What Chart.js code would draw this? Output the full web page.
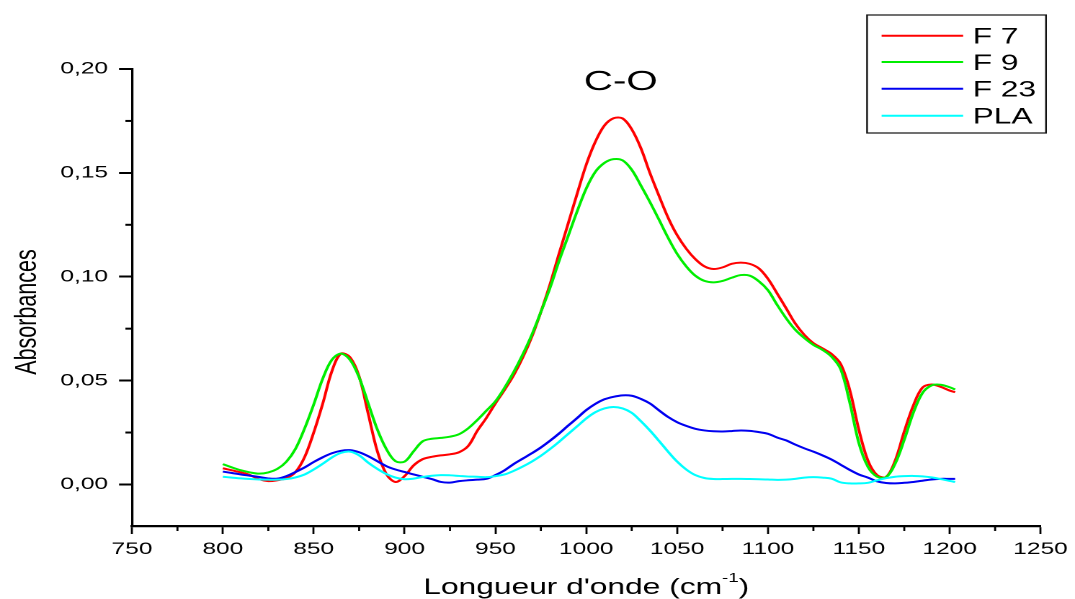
<!DOCTYPE html>
<html>
<head>
<meta charset="utf-8">
<title>Absorbances C-O</title>
<script src="https://cdn.jsdelivr.net/npm/chart.js@4.4.1/dist/chart.umd.min.js"></script>
<style>
  html, body { margin: 0; padding: 0; background: #fff; overflow: hidden; }
  /* the plot is drawn narrow and widened horizontally */
  #wrap { width: 746px; height: 599px; transform: scaleX(1.441); transform-origin: 0 0; }
</style>
</head>
<body>
<div id="wrap"><canvas id="spectre"></canvas></div>
<script>
// nombre d'onde (cm-1)
const wavenumbers = [
  800, 805, 810, 815, 820, 825, 830, 835, 840, 845,
  850, 855, 860, 865, 870, 875, 880, 885, 890, 895,
  900, 905, 910, 915, 920, 925, 930, 935, 940, 945,
  950, 955, 960, 965, 970, 975, 980, 985, 990, 995,
  1000, 1005, 1010, 1015, 1020, 1025, 1030, 1035, 1040, 1045,
  1050, 1055, 1060, 1065, 1070, 1075, 1080, 1085, 1090, 1095,
  1100, 1105, 1110, 1115, 1120, 1125, 1130, 1135, 1140, 1145,
  1150, 1155, 1160, 1165, 1170, 1175, 1180, 1185, 1190, 1195,
  1200, 1203
];

const f7 = [
  0.0078, 0.0068, 0.0058, 0.0045, 0.0025, 0.0016, 0.0020, 0.0030, 0.0060, 0.0132,
  0.0250, 0.0390, 0.0545, 0.0630, 0.0612, 0.0520, 0.0340, 0.0160, 0.0050, 0.0012,
  0.0040, 0.0092, 0.0122, 0.0133, 0.0140, 0.0145, 0.0155, 0.0185, 0.0258, 0.0320,
  0.0390, 0.0455, 0.0525, 0.0610, 0.0710, 0.0830, 0.0962, 0.1110, 0.1255, 0.1400,
  0.1540, 0.1650, 0.1728, 0.1763, 0.1762, 0.1710, 0.1620, 0.1500, 0.1390, 0.1285,
  0.1200, 0.1135, 0.1085, 0.1050, 0.1037, 0.1045, 0.1062, 0.1068, 0.1062, 0.1040,
  0.0990, 0.0920, 0.0848, 0.0775, 0.0720, 0.0680, 0.0655, 0.0628, 0.0580, 0.0455,
  0.0264, 0.0115, 0.0045, 0.0036, 0.0115, 0.0255, 0.0380, 0.0466, 0.0481, 0.0470,
  0.0452, 0.0444
];

const f9 = [
  0.0098, 0.0082, 0.0068, 0.0058, 0.0052, 0.0058, 0.0075, 0.0110, 0.0172, 0.0270,
  0.0385, 0.0510, 0.0600, 0.0630, 0.0600, 0.0515, 0.0390, 0.0265, 0.0170, 0.0112,
  0.0110, 0.0160, 0.0208, 0.0220, 0.0224, 0.0230, 0.0242, 0.0270, 0.0310, 0.0355,
  0.0400, 0.0465, 0.0540, 0.0625, 0.0720, 0.0830, 0.0945, 0.1075, 0.1195, 0.1315,
  0.1425, 0.1505, 0.1548, 0.1566, 0.1560, 0.1515, 0.1440, 0.1360, 0.1275, 0.1188,
  0.1110, 0.1050, 0.1005, 0.0980, 0.0973, 0.0980, 0.0995, 0.1008, 0.1005, 0.0978,
  0.0935, 0.0865, 0.0800, 0.0745, 0.0705, 0.0672, 0.0648, 0.0615, 0.0555, 0.0395,
  0.0200, 0.0085, 0.0038, 0.0035, 0.0100, 0.0215, 0.0345, 0.0440, 0.0477, 0.0480,
  0.0468, 0.0457
];

const f23 = [
  0.0062, 0.0055, 0.0048, 0.0042, 0.0036, 0.0029, 0.0028, 0.0040, 0.0060, 0.0082,
  0.0108, 0.0131, 0.0150, 0.0162, 0.0165, 0.0155, 0.0136, 0.0112, 0.0088, 0.0072,
  0.0060, 0.0048, 0.0037, 0.0026, 0.0012, 0.0009, 0.0016, 0.0020, 0.0023, 0.0027,
  0.0045, 0.0068, 0.0098, 0.0124, 0.0150, 0.0178, 0.0210, 0.0245, 0.0283, 0.0320,
  0.0358, 0.0388, 0.0410, 0.0422, 0.0429, 0.0427, 0.0412, 0.0390, 0.0357, 0.0325,
  0.0300, 0.0282, 0.0268, 0.0260, 0.0256, 0.0255, 0.0257, 0.0260, 0.0258, 0.0252,
  0.0244, 0.0226, 0.0212, 0.0192, 0.0174, 0.0158, 0.0140, 0.0120, 0.0095, 0.0070,
  0.0048, 0.0033, 0.0015, 0.0007, 0.0005, 0.0008, 0.0012, 0.0018, 0.0024, 0.0027,
  0.0027, 0.0027
];

const pla = [
  0.0037, 0.0033, 0.0029, 0.0026, 0.0024, 0.0023, 0.0023, 0.0026, 0.0034, 0.0048,
  0.0072, 0.0100, 0.0130, 0.0152, 0.0158, 0.0140, 0.0105, 0.0075, 0.0050, 0.0033,
  0.0025, 0.0028, 0.0036, 0.0042, 0.0045, 0.0044, 0.0041, 0.0038, 0.0037, 0.0035,
  0.0040, 0.0048, 0.0065, 0.0086, 0.0110, 0.0138, 0.0170, 0.0205, 0.0243, 0.0280,
  0.0318, 0.0348, 0.0366, 0.0373, 0.0366, 0.0345, 0.0305, 0.0260, 0.0210, 0.0158,
  0.0110, 0.0072, 0.0045, 0.0031, 0.0026, 0.0026, 0.0027, 0.0027, 0.0026, 0.0025,
  0.0024, 0.0022, 0.0023, 0.0027, 0.0033, 0.0035, 0.0033, 0.0028, 0.0010, 0.0005,
  0.0005, 0.0008, 0.0020, 0.0030, 0.0037, 0.0040, 0.0041, 0.0039, 0.0034, 0.0026,
  0.0017, 0.0012
];

// graduations
const xTicks = [750, 800, 850, 900, 950, 1000, 1050, 1100, 1150, 1200, 1250];
const xMinorTicks = [775, 825, 875, 925, 975, 1025, 1075, 1125, 1175, 1225];
const yTicks = [0, 0.05, 0.10, 0.15, 0.20];
const yMinorTicks = [0.025, 0.075, 0.125, 0.175];

const FONT = '"Liberation Sans", Arial, sans-serif';
Chart.defaults.color = '#000';
Chart.defaults.font.family = FONT;

function serie(label, values, color, order) {
  return {
    label: label,
    data: wavenumbers.map((w, i) => ({ x: w, y: values[i] })),
    borderColor: color,
    backgroundColor: color,
    borderWidth: 2,
    pointRadius: 0,
    tension: 0.35,
    order: order
  };
}

// titres, petites graduations et légende
const decor = {
  id: 'decor',
  afterDraw(chart) {
    const { ctx, chartArea, scales } = chart;
    const x = scales.x, y = scales.y;
    ctx.save();
    ctx.strokeStyle = '#000';
    ctx.fillStyle = '#000';

    ctx.lineWidth = 2;
    yMinorTicks.forEach(v => {
      const py = y.getPixelForValue(v);
      ctx.beginPath();
      ctx.moveTo(chartArea.left, py);
      ctx.lineTo(chartArea.left - 4.6, py);
      ctx.stroke();
    });
    ctx.lineWidth = 1.4;
    xMinorTicks.forEach(v => {
      const px = x.getPixelForValue(v);
      ctx.beginPath();
      ctx.moveTo(px, chartArea.bottom);
      ctx.lineTo(px, chartArea.bottom + 5);
      ctx.stroke();
    });

    // C-O
    ctx.font = '28px ' + FONT;
    ctx.textAlign = 'center';
    ctx.textBaseline = 'alphabetic';
    ctx.fillText('C-O', x.getPixelForValue(1019), 90);

    // axe Y
    ctx.save();
    ctx.translate(25, 312);
    ctx.rotate(-Math.PI / 2);
    ctx.font = '21.5px ' + FONT;
    ctx.fillText('Absorbances', 0, 0);
    ctx.restore();

    // axe X, avec exposant
    const big = '22px ' + FONT, small = '13px ' + FONT;
    const t1 = "Longueur d'onde (cm", t2 = '-1', t3 = ')';
    ctx.font = big;
    const w1 = ctx.measureText(t1).width, w3 = ctx.measureText(t3).width;
    ctx.font = small;
    const w2 = ctx.measureText(t2).width;
    let tx = (chartArea.left + chartArea.right) / 2 - (w1 + w2 + w3) / 2;
    ctx.textAlign = 'left';
    ctx.font = big;
    ctx.fillText(t1, tx, 594);
    ctx.font = small;
    ctx.fillText(t2, tx + w1, 582);
    ctx.font = big;
    ctx.fillText(t3, tx + w1 + w2, 594);

    // légende
    ctx.lineWidth = 1.2;
    ctx.strokeStyle = '#111';
    ctx.strokeRect(601.7, 15, 124.2, 118);
    ctx.font = '22px ' + FONT;
    const rows = [35.7, 62, 88.7, 115.7];
    chart.data.datasets.forEach((ds, i) => {
      const ry = rows[i];
      ctx.strokeStyle = ds.borderColor;
      ctx.lineWidth = 2;
      ctx.beginPath();
      ctx.moveTo(611.8, ry);
      ctx.lineTo(668.4, ry);
      ctx.stroke();
      ctx.fillStyle = '#000';
      ctx.fillText(ds.label, 675, ry + 8);
    });
    ctx.restore();
  }
};

new Chart(document.getElementById('spectre'), {
  type: 'line',
  data: {
    datasets: [
      serie('F 7', f7, '#ff0000', 3),
      serie('F 9', f9, '#00ee00', 2),
      serie('F 23', f23, '#0000f0', 1),
      serie('PLA', pla, '#00ffff', 0)
    ]
  },
  options: {
    responsive: true,
    maintainAspectRatio: false,
    devicePixelRatio: 2,
    animation: false,
    events: [],
    layout: { padding: { left: 0, right: 23, top: 69, bottom: 0 } },
    plugins: { legend: { display: false }, tooltip: { enabled: false } },
    scales: {
      x: {
        type: 'linear',
        min: 750,
        max: 1250,
        afterBuildTicks: s => { s.ticks = xTicks.map(v => ({ value: v })); },
        afterFit: s => { s.height = 73; },
        grid: { drawOnChartArea: false, tickLength: 8, tickWidth: 1.4, tickColor: '#000' },
        border: { display: true, color: '#000', width: 2.2 },
        ticks: {
          font: { size: 17 },
          padding: 5,
          maxRotation: 0,
          autoSkip: false,
          callback: v => String(v)
        }
      },
      y: {
        type: 'linear',
        min: -0.02,
        max: 0.20,
        afterBuildTicks: s => { s.ticks = yTicks.map(v => ({ value: v })); },
        afterFit: s => { s.width = 91.6; },
        grid: { drawOnChartArea: false, tickLength: 9, tickWidth: 2, tickColor: '#000' },
        border: { display: true, color: '#000', width: 1.6 },
        ticks: {
          font: { size: 17 },
          padding: 7.6,
          autoSkip: false,
          callback: v => v.toFixed(2).replace('.', ',')
        }
      }
    }
  },
  plugins: [decor]
});
</script>
</body>
</html>
